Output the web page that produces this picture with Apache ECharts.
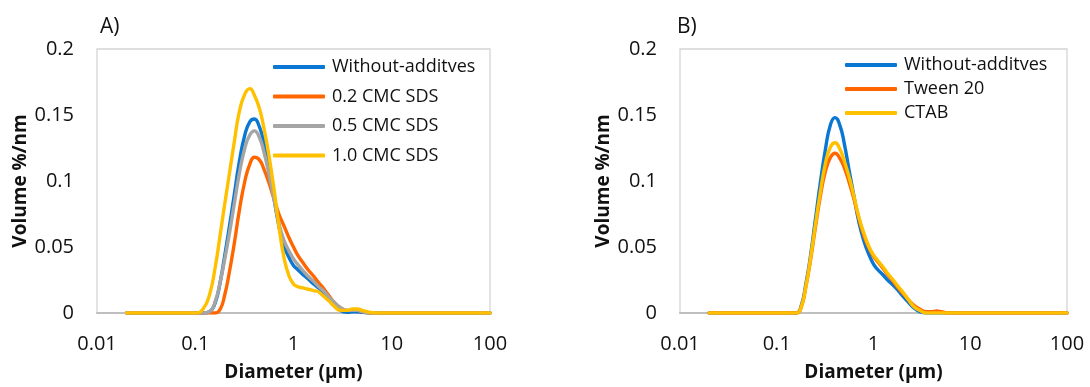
<!DOCTYPE html>
<html>
<head>
<meta charset="utf-8">
<script src="https://cdn.jsdelivr.net/npm/echarts@6/dist/echarts.min.js"></script>
<style>
  html, body { margin: 0; padding: 0; background: #fff; }
  #chart { width: 1090px; height: 387px; }
</style>
</head>
<body>
<div id="chart"></div>
<script>
// Particle diameters (µm) shared by every size-distribution curve
const diameters = [0.02, 0.05, 0.1, 0.12, 0.14, 0.16, 0.18, 0.2, 0.22, 0.25, 0.28, 0.32, 0.36, 0.40,
  0.45, 0.5, 0.56, 0.63, 0.71, 0.8, 0.9, 1.0, 1.1, 1.25, 1.4, 1.6, 1.8, 2.0, 2.3, 2.6, 3.0, 3.5,
  4.0, 4.5, 5.0, 6.0, 7.0, 10, 30, 100];

// Panel A: SDS concentration series (Volume %/nm)
const withoutA = [0, 0, 0, 0, 0.001, 0.008, 0.024, 0.044, 0.063, 0.09, 0.114, 0.135, 0.145, 0.147,
  0.141, 0.129, 0.11, 0.088, 0.066, 0.051, 0.042, 0.036, 0.033, 0.029, 0.026, 0.022, 0.019, 0.016,
  0.011, 0.007, 0.002, 0.0005, 0.001, 0.001, 0.0005, 0, 0, 0, 0, 0];
const sds02 = [0, 0, 0, 0, 0, 0, 0.003, 0.014, 0.029, 0.053, 0.077, 0.1, 0.113, 0.118,
  0.116, 0.109, 0.099, 0.087, 0.075, 0.066, 0.057, 0.05, 0.044, 0.038, 0.033, 0.028, 0.023, 0.019,
  0.013, 0.008, 0.004, 0.002, 0.002, 0.002, 0.001, 0, 0, 0, 0, 0];
const sds05 = [0, 0, 0, 0, 0.001, 0.009, 0.024, 0.041, 0.058, 0.083, 0.105, 0.125, 0.135, 0.138,
  0.133, 0.122, 0.106, 0.087, 0.068, 0.055, 0.047, 0.041, 0.037, 0.032, 0.028, 0.024, 0.02, 0.017,
  0.012, 0.008, 0.004, 0.002, 0.002, 0.002, 0.001, 0, 0, 0, 0, 0];
const sds10 = [0, 0, 0, 0.003, 0.014, 0.035, 0.06, 0.083, 0.103, 0.13, 0.152, 0.166, 0.17, 0.165,
  0.155, 0.14, 0.12, 0.095, 0.066, 0.042, 0.028, 0.022, 0.02, 0.019, 0.018, 0.017, 0.016, 0.013,
  0.009, 0.005, 0.002, 0.002, 0.003, 0.003, 0.002, 0.0005, 0, 0, 0, 0];

// Panel B: other surfactants (Volume %/nm)
const withoutB = [0, 0, 0, 0, 0, 0, 0.006, 0.022, 0.04, 0.07, 0.097, 0.125, 0.143, 0.148,
  0.142, 0.128, 0.108, 0.088, 0.068, 0.054, 0.044, 0.037, 0.033, 0.029, 0.025, 0.021, 0.017, 0.013,
  0.008, 0.004, 0.001, 0, 0, 0, 0, 0, 0, 0, 0, 0];
const tween20 = [0, 0, 0, 0, 0, 0, 0.005, 0.02, 0.037, 0.064, 0.087, 0.108, 0.118, 0.121,
  0.117, 0.11, 0.099, 0.086, 0.071, 0.058, 0.049, 0.043, 0.039, 0.034, 0.029, 0.024, 0.019, 0.015,
  0.01, 0.006, 0.003, 0.001, 0.001, 0.0015, 0.001, 0, 0, 0, 0, 0];
const ctab = [0, 0, 0, 0, 0, 0, 0.005, 0.02, 0.038, 0.066, 0.09, 0.114, 0.126, 0.129,
  0.124, 0.115, 0.103, 0.088, 0.072, 0.06, 0.05, 0.044, 0.04, 0.035, 0.03, 0.025, 0.02, 0.016,
  0.01, 0.005, 0.002, 0, 0, 0, 0, 0, 0, 0, 0, 0];

const namesA = ['Without-additves', '0.2 CMC SDS', '0.5 CMC SDS', '1.0 CMC SDS'];
const namesB = ['Without-additves', 'Tween 20', 'CTAB'];

const BLUE = '#0A78D2', ORANGE = '#FF6600', GRAY = '#A5A5A5', GOLD = '#FFC000';
const FONT = '"Open Sans", "Noto Sans", sans-serif';

const pairs = vals => diameters.map((d, i) => [d, vals[i]]);

function curve(name, vals, color, idx) {
  return {
    name, type: 'line', xAxisIndex: idx, yAxisIndex: idx,
    data: pairs(vals), smooth: 0.5,
    showSymbol: false, symbol: 'none',
    lineStyle: { color, width: 3.4, join: 'round', cap: 'round' }, itemStyle: { color },
    emphasis: { disabled: true }
  };
}

function xAxisDef(idx) {
  return {
    gridIndex: idx, type: 'log', logBase: 10, min: 0.01, max: 100,
    axisLine: { show: true, onZero: false, lineStyle: { color: '#bfbfbf', width: 2 } },
    axisTick: { show: false }, splitLine: { show: false },
    axisLabel: { margin: 21, fontSize: 20, color: '#111', fontFamily: FONT,
      formatter: v => String(+Number(v).toPrecision(3)) },
    name: 'Diameter (µm)', nameLocation: 'middle', nameGap: 50,
    nameTextStyle: { fontSize: 19, fontWeight: 'bold', color: '#111', fontFamily: FONT }
  };
}

function yAxisDef(idx) {
  return {
    gridIndex: idx, type: 'value', min: 0, max: 0.2, interval: 0.05,
    axisLine: { show: false }, axisTick: { show: false }, splitLine: { show: false },
    axisLabel: { margin: 23, fontSize: 20, color: '#111', fontFamily: FONT },
    name: 'Volume %/nm', nameLocation: 'middle', nameRotate: 90, nameGap: 65,
    nameTextStyle: { fontSize: 19, fontWeight: 'bold', color: '#111', fontFamily: FONT }
  };
}

function legendDef(names, left, top, gap) {
  return {
    data: names, orient: 'vertical', left, top, itemGap: gap,
    icon: 'roundRect', itemWidth: 52, itemHeight: 4,
    textStyle: { fontSize: 18, color: '#111', fontFamily: FONT, padding: [0, 0, 0, 2] },
    selectedMode: false
  };
}

const option = {
  animation: false,
  title: [
    { text: 'A)', left: 95, top: 12, textStyle: { fontSize: 21, fontWeight: 'normal', color: '#111', fontFamily: FONT } },
    { text: 'B)', left: 672, top: 12, textStyle: { fontSize: 21, fontWeight: 'normal', color: '#111', fontFamily: FONT } }
  ],
  grid: [
    { left: 97, right: 600, top: 49, bottom: 65, show: true, borderColor: '#d4d4d4', borderWidth: 1.3 },
    { left: 680, right: 23, top: 49, bottom: 65, show: true, borderColor: '#d4d4d4', borderWidth: 1.3 }
  ],
  xAxis: [xAxisDef(0), xAxisDef(1)],
  yAxis: [yAxisDef(0), yAxisDef(1)],
  legend: [
    legendDef(namesA, 268, 53, 11.5),
    legendDef(namesB, 840, 51, 6)
  ],
  series: [
    curve(namesA[0], withoutA, BLUE, 0),
    curve(namesA[1], sds02, ORANGE, 0),
    curve(namesA[2], sds05, GRAY, 0),
    curve(namesA[3], sds10, GOLD, 0),
    curve(namesB[0], withoutB, BLUE, 1),
    curve(namesB[1], tween20, ORANGE, 1),
    curve(namesB[2], ctab, GOLD, 1)
  ]
};

const chart = echarts.init(document.getElementById('chart'), null, { renderer: 'canvas' });
chart.setOption(option);
</script>
</body>
</html>
